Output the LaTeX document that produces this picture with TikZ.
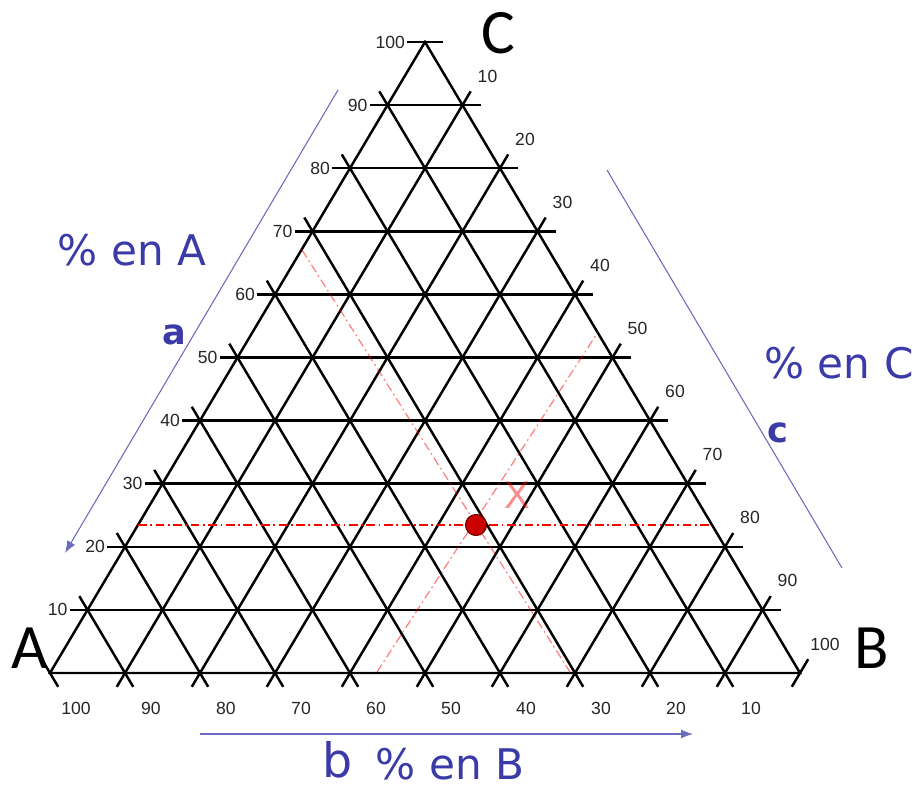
\documentclass[tikz,border=0pt]{standalone}
\usepackage{fontspec}
\setmainfont{Liberation Sans}
\newfontfamily\axisfont{DejaVu Sans}
\newfontfamily\vertexfont{Carlito}
\usepackage{tikz}
\usetikzlibrary{arrows.meta,calc}
\definecolor{axisblue}{RGB}{58,58,168}
\definecolor{dotred}{RGB}{205,0,0}

\begin{document}
\begin{tikzpicture}[
    x=0.02cm,
    y=-0.02cm,
    >={Latex[length=2.4mm,width=1.8mm]},
    grid/.style={
        draw=black,
        line width=1.4pt
    },
    tick/.style={
        font=\fontsize{10}{12}\selectfont,
        text=black!85,
        inner sep=1pt
    },
    axis/.style={
        draw=axisblue!75,
        line width=0.6pt
    },
    axislabel/.style={
        text=axisblue,
        font=\axisfont\fontsize{24}{28}\selectfont,
        inner sep=0pt
    },
    letter/.style={
        text=axisblue,
        font=\axisfont\bfseries\fontsize{20}{24}\selectfont,
        inner sep=0pt
    },
    vertex/.style={
        font=\vertexfont\fontsize{36}{40}\selectfont,
        inner sep=0pt
    },
    guide/.style={
        draw=red,
        line width=0.8pt,
        dash pattern=on 5pt off 2pt on 1pt off 2pt
    },
    faint/.style={
        draw opacity=0.5,
        line width=0.7pt
    },
    point/.style={
        circle,
        fill=dotred,
        draw=black!60!red,
        line width=0.6pt,
        minimum size=12pt,
        inner sep=0pt
    },
    ptlabel/.style={
        text=red,
        text opacity=0.45,
        font=\fontsize{22}{24}\selectfont,
        inner sep=0pt
    }
]

\fill[white] (0,0) rectangle (916,787);
\useasboundingbox (0,0) rectangle (916,787);

% corners of the triangle
\coordinate (A) at (50,673);
\coordinate (B) at (800,673);
\coordinate (C) at (425,42);

% points on the bottom, left and right sides
\foreach \i in {0,...,10} {
    \coordinate (P\i) at ({50+75*\i},673);
    \coordinate (L\i) at ({50+37.5*\i},{673-63.1*\i});
    \coordinate (R\i) at ({800-37.5*\i},{673-63.1*\i});
}

% lines parallel to BC
\foreach \i in {0,...,9}
    \draw[grid] ($(P\i)+(8.2,13.8)$) -- ($(L\i)+(-8.2,-13.8)$);

% lines parallel to AC
\foreach \i in {1,...,10} {
    \pgfmathtruncatemacro\k{10-\i}
    \draw[grid] ($(P\i)+(-8.2,13.8)$) -- ($(R\k)+(8.2,-13.8)$);
}

% horizontal lines
\foreach \j in {1,...,10}
    \draw[grid] ($(L\j)+(-18,0)$) -- ($(R\j)+(18,0)$);

\draw[grid] (A) -- (B) -- (C) -- cycle;

% scale numbers
\foreach \j in {1,...,10} {
    \pgfmathtruncatemacro\v{10*\j}
    \node[tick, anchor=east] (left\j) at ($(L\j)+(-18,0)$) {\v};
}
\foreach \i in {1,...,10} {
    \pgfmathtruncatemacro\k{10-\i}
    \pgfmathtruncatemacro\v{10*\i}
    \node[tick] (right\i) at ($(R\k)+(25,-29)$) {\v};
}
\foreach \i in {0,...,9} {
    \pgfmathtruncatemacro\v{100-10*\i}
    \node[tick] (bottom\i) at ($(P\i)+(26,35)$) {\v};
}

% vertex names
\node[vertex] (nameA) at (30,648) {A};
\node[vertex] (nameB) at (872,648) {B};
\node[vertex] (nameC) at (498,33) {C};

% axis arrows
\coordinate (aTop) at (338,90);
\coordinate (aEnd) at (65,553);
\draw[axis,->] (aTop) -- (aEnd);
\node[axislabel] (pctA) at (132,250) {\% en A};
\node[letter] (a) at (174,335) {a};

\coordinate (bStart) at (200,734);
\coordinate (bEnd) at (693,734);
\draw[axis,->] (bStart) -- (bEnd);
\node[axislabel] (pctB) at (450,764) {\% en B};
\node[axislabel, font=\axisfont\fontsize{27}{30}\selectfont] (b) at (338,760) {b};

\coordinate (cTop) at (607,170);
\coordinate (cEnd) at (842,568);
\draw[axis] (cTop) -- (cEnd);
\node[axislabel] (pctC) at (839,363) {\% en C};
\node[letter] (c) at (778,433) {c};

% reading lines through the point
\coordinate (hL) at (138,525);
\coordinate (hR) at (712,525);
\coordinate (bcTop) at (302,250);
\coordinate (bcBot) at (570,672);
\coordinate (acBot) at (377,672);
\coordinate (acTop) at (598,332);
\draw[guide] (hL) -- (hR);
\draw[guide, faint] (bcTop) -- (bcBot);
\draw[guide, faint] (acBot) -- (acTop);

\node[point] (X) at (476,525) {};
\node[ptlabel] (Xname) at (517,495) {X};

\end{tikzpicture}
\end{document}
